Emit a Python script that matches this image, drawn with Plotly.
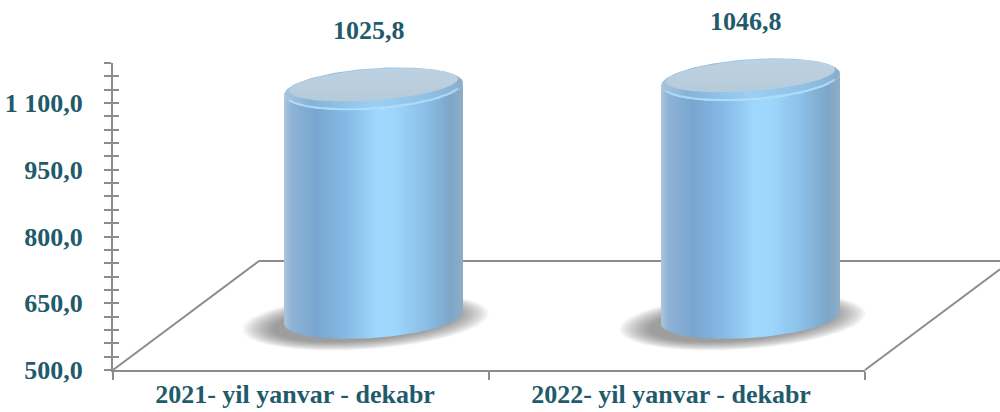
import numpy as np
import plotly.graph_objects as go

# ---------------- data ----------------
categories = ["2021- yil yanvar - dekabr", "2022- yil yanvar - dekabr"]
values = [1025.8, 1046.8]
value_labels = ["1025,8", "1046,8"]
tick_vals = [500, 650, 800, 950, 1100]
tick_text = ["500,0", "650,0", "800,0", "950,0", "1 100,0"]

# ---------------- geometry / style ----------------
W, H = 1000, 412
BASE = 500
AX_MIN, AX_MAX = 500, 1190
FONT = "Liberation Serif"
TXT = "#1F5B6B"
GRID = "#8C8C8C"

# cylinder (oblique 3-D) axis system
PX_PER_X = 377.0
X0_PX = 373.5
PX_PER_Y = 0.435
BASE_PX = 317.5
A_PX, B_PX, SHEAR_PX = 89.5, 20.5, 6.0


def dx(p):
    return p / PX_PER_X


def dy(p):
    return p / PX_PER_Y


def ellipse(cx, cy, a, b, sh, t0=0.0, t1=2 * np.pi, n=160):
    t = np.linspace(t0, t1, n)
    return cx + dx(a * np.cos(t)), cy + dy(b * np.sin(t) + sh * np.cos(t))


body_scale = [
    [0.00, "#AFC6DA"], [0.04, "#8FB3D5"], [0.18, "#78A6D0"], [0.35, "#86BAE6"],
    [0.52, "#9FD7FD"], [0.62, "#9DD5FB"], [0.78, "#8CC0E8"], [0.93, "#7DA6C8"],
    [1.00, "#8FADC6"],
]
rim_scale = [
    [0.0, "#A6C4DD"], [0.15, "#86B3DA"], [0.5, "#9CCFF4"], [0.8, "#8FC1E6"], [1.0, "#88AECB"],
]

fig = go.Figure()

# invisible traces for the visible axes
fig.add_trace(go.Scatter(x=categories, y=[BASE, BASE], mode="markers",
                         marker=dict(opacity=0), hoverinfo="skip", showlegend=False))
fig.add_trace(go.Scatter(x=categories, y=[BASE, BASE], yaxis="y3", mode="markers",
                         marker=dict(opacity=0), hoverinfo="skip", showlegend=False))

for i, v in enumerate(values):
    cx = i
    # soft shadow (stack of translucent ellipses)
    n_sh = 14
    for k in range(n_sh):
        f = k / (n_sh - 1)
        xs, ys = ellipse(cx - dx(8), BASE - dy(4), 123 - 30 * f, 28 - 9 * f, SHEAR_PX * 1.3)
        fig.add_trace(go.Scatter(x=xs, y=ys, xaxis="x2", yaxis="y2", mode="lines",
                                 line=dict(width=0), fill="toself",
                                 fillcolor="rgba(70,70,70,0.05)", hoverinfo="skip",
                                 showlegend=False))
    # body
    bx, by = ellipse(cx, BASE, A_PX, B_PX, SHEAR_PX, np.pi, 2 * np.pi)
    tx, ty = ellipse(cx, v, A_PX, B_PX, SHEAR_PX, 2 * np.pi, np.pi)
    xs = np.concatenate([bx, tx, [bx[0]]])
    ys = np.concatenate([by, ty, [by[0]]])
    fig.add_trace(go.Scatter(x=xs, y=ys, xaxis="x2", yaxis="y2", mode="lines",
                             line=dict(width=0), fill="toself",
                             fillgradient=dict(type="horizontal", colorscale=body_scale),
                             hoverinfo="skip", showlegend=False))
    # top rim
    rx, ry = ellipse(cx, v, A_PX, B_PX, SHEAR_PX)
    fig.add_trace(go.Scatter(x=rx, y=ry, xaxis="x2", yaxis="y2", mode="lines",
                             line=dict(width=0), fill="toself",
                             fillgradient=dict(type="horizontal", colorscale=rim_scale),
                             hoverinfo="skip", showlegend=False))
    # highlight line on the rim
    hx, hy = ellipse(cx, v - dy(1), A_PX - 3, B_PX - 2, SHEAR_PX, np.pi * 1.08, np.pi * 1.92)
    fig.add_trace(go.Scatter(x=hx, y=hy, xaxis="x2", yaxis="y2", mode="lines",
                             line=dict(width=2, color="rgba(175,225,255,0.8)"),
                             hoverinfo="skip", showlegend=False))
    # top face
    fx, fy = ellipse(cx, v + dy(4), A_PX - 5, B_PX - 5, SHEAR_PX)
    fig.add_trace(go.Scatter(x=fx, y=fy, xaxis="x2", yaxis="y2", mode="lines",
                             line=dict(width=0), fill="toself",
                             fillgradient=dict(type="vertical",
                                               colorscale=[[0, "#B6CBDA"], [1, "#BED1E0"]]),
                             hoverinfo="skip", showlegend=False))
    fig.add_annotation(x=cx, y=v, xref="x2", yref="y2", text=value_labels[i],
                       showarrow=False, yshift=58, xshift=-5,
                       font=dict(family=FONT, size=26, color=TXT, weight="bold"))

# floor (3-D wall/floor outline)
yb = (H - 370) / H
yback = (H - 261) / H
floor_lines = [
    ((113 / W, yb), (259 / W, yback)),
    ((259 / W, yback), (1.0, yback)),
    ((865 / W, yb), (1.0, (H - 269.2) / H)),
]
for (x0, y0), (x1, y1) in floor_lines:
    fig.add_shape(type="line", xref="paper", yref="paper", x0=x0, y0=y0, x1=x1, y1=y1,
                  line=dict(color=GRID, width=2), layer="below")

ydom = [(H - 370) / H, (H - 63) / H]
tickfont = dict(family=FONT, size=26, color=TXT, weight="bold")
minor_out = dict(dtick=30, tick0=500, ticks="outside", ticklen=7, tickcolor=GRID, tickwidth=2)
minor_in = dict(dtick=30, tick0=500, ticks="inside", ticklen=6, tickcolor=GRID, tickwidth=2)

fig.update_layout(
    template="none",
    width=W, height=H, autosize=False,
    margin=dict(l=0, r=0, t=0, b=0, pad=0),
    paper_bgcolor="white", plot_bgcolor="rgba(0,0,0,0)",
    xaxis=dict(domain=[113 / W, 865 / W], type="category", range=[-0.5, 1.5],
               tickson="boundaries", ticks="outside", ticklen=8, tickcolor=GRID, tickwidth=2,
               showline=True, linecolor=GRID, linewidth=2, showgrid=False, zeroline=False,
               tickfont=tickfont, ticklabelstandoff=0, ticklabelshift=-6, anchor="y",
               automargin=False, fixedrange=True),
    yaxis=dict(domain=ydom, range=[AX_MIN, AX_MAX], tickvals=tick_vals, ticktext=tick_text,
               ticks="outside", ticklen=7, tickcolor=GRID, tickwidth=2, minor=minor_out,
               showline=True, linecolor=GRID, linewidth=2, showgrid=False, zeroline=False,
               tickfont=tickfont, ticklabelstandoff=16, anchor="x", automargin=False),
    yaxis3=dict(domain=ydom, range=[AX_MIN, AX_MAX], overlaying="y", anchor="x",
                tickvals=tick_vals, ticks="inside", ticklen=6, tickcolor=GRID, tickwidth=2,
                minor=minor_in, showticklabels=False, showline=False, showgrid=False,
                zeroline=False, automargin=False),
    xaxis2=dict(domain=[0, 1], range=[-X0_PX / PX_PER_X, (W - X0_PX) / PX_PER_X],
                anchor="y2", visible=False, automargin=False),
    yaxis2=dict(domain=[0, 1],
                range=[BASE - (H - BASE_PX) / PX_PER_Y, BASE + BASE_PX / PX_PER_Y],
                anchor="x2", visible=False, automargin=False),
)

fig.write_html("out.html", config={"displayModeBar": False, "staticPlot": True},
               post_script="document.body.style.margin='0px';"
                           "document.body.style.overflow='hidden';")
